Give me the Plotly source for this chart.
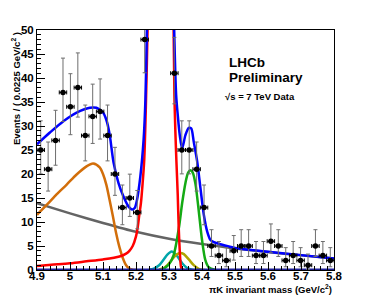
import numpy as np
import plotly.graph_objects as go

# ---------------- data ----------------
bin_lo = 4.9
bin_width = 0.0225
counts = [25, 21, 27, 37, 34, 38, 28, 32, 33, 28,
          20, 13, 15, 12, 48, 105, 190, 160, 41, 25,
          25, 21, 13, 5, 3, 2, 4, 5, 5, 3,
          3, 6, 5, 2, 3, 2, 1, 5, 3, 2]

# total fit (blue)
blue_x = [4.90, 4.94, 4.98, 5.02, 5.06, 5.08, 5.10, 5.11, 5.12, 5.132, 5.147, 5.162,
          5.1775, 5.188, 5.196, 5.203, 5.213, 5.223, 5.2285, 5.233, 5.24, 5.26, 5.275,
          5.29, 5.30, 5.31, 5.315, 5.3216, 5.3265, 5.3326, 5.3398, 5.3498, 5.3599,
          5.3672, 5.375, 5.3854, 5.3954, 5.4055, 5.4158, 5.4258, 5.4359, 5.4562,
          5.5, 5.6, 5.7, 5.8]
blue_y = [26.2, 28.7, 31.0, 32.8, 33.8, 33.8, 32.8, 31.3, 28.3, 22.4, 18.1, 15.3,
          13.2, 12.6, 12.9, 14.6, 19.4, 27.1, 35.4, 50, 85, 170, 210,
          170, 125, 72, 52, 36.5, 32.3, 28.1, 25.3, 28.1, 29.6,
          29.5, 26.7, 22.6, 17.0, 11.5, 8.0, 6.25, 5.8, 5.35,
          4.6, 3.8, 3.1, 2.4]

# B0 -> K pi signal (red)
red_x = [4.90, 5.00, 5.05, 5.10, 5.15, 5.17, 5.18, 5.19, 5.20, 5.205, 5.21, 5.215,
         5.22, 5.225, 5.2295, 5.235, 5.243, 5.26, 5.275, 5.29, 5.30, 5.31, 5.314,
         5.3164, 5.319, 5.3225, 5.3265, 5.3295, 5.3347, 5.3377, 5.345, 5.36]
red_y = [0.85, 1.4, 1.8, 2.2, 2.8, 3.4, 4.0, 5.0, 7.0, 8.8, 11.5, 14.0,
         18.0, 23.0, 33.0, 50, 85, 170, 200, 165, 110, 62, 50,
         36.5, 29.5, 22.6, 15.6, 8.7, 1.7, 0.3, 0, 0]

# partially reconstructed background (orange)
orange_x = [4.90, 4.93, 4.96, 4.99, 5.02, 5.05, 5.07, 5.09, 5.10, 5.11, 5.12, 5.13,
            5.14, 5.15, 5.16, 5.17, 5.18, 5.19, 5.20]
orange_y = [11.5, 13.6, 15.8, 17.8, 19.9, 21.6, 22.2, 21.4, 20.0, 17.8, 14.6, 11.2,
            7.6, 4.7, 2.5, 1.0, 0.3, 0.05, 0]

# combinatorial background (gray)
gray_x = [4.9, 5.0, 5.1, 5.2, 5.3, 5.4, 5.5, 5.6, 5.7, 5.8]
gray_y = [13.9, 11.8, 9.8, 7.95, 6.5, 5.4, 4.5, 3.75, 3.05, 2.4]

# Bs -> K pi (green)
green_x = [5.28, 5.30, 5.314, 5.33, 5.34, 5.35, 5.358, 5.365, 5.372, 5.38, 5.39,
           5.40, 5.41, 5.42, 5.44]
green_y = [0.1, 1.2, 3.1, 8.8, 14.0, 18.2, 20.3, 20.8, 20.3, 18.0, 12.4,
           6.3, 2.1, 0.6, 0]

# small peaking components (cyan, olive)
cyan_x = [5.24, 5.254, 5.27, 5.284, 5.295, 5.308, 5.32, 5.33, 5.34, 5.355, 5.37, 5.38]
cyan_y = [0.1, 0.3, 1.0, 2.2, 3.2, 3.85, 3.3, 2.4, 1.4, 0.4, 0.05, 0]
olive_x = [5.27, 5.284, 5.30, 5.315, 5.325, 5.335, 5.345, 5.36, 5.375, 5.39, 5.40, 5.41]
olive_y = [0.1, 0.4, 1.4, 2.7, 3.3, 3.55, 3.3, 2.2, 1.0, 0.25, 0.05, 0]

# component compatible with zero (navy)
zero_x = [4.9, 5.8]
zero_y = [0, 0]

x_tickvals = [4.9, 5.0, 5.1, 5.2, 5.3, 5.4, 5.5, 5.6, 5.7, 5.8]
x_ticktext = ["4.9", "5", "5.1", "5.2", "5.3", "5.4", "5.5", "5.6", "5.7", "5.8"]
y_tickvals = [0, 5, 10, 15, 20, 25, 30, 35, 40, 45, 50]
y_ticktext = ["0", "5", "10", "15", "20", "25", "30", "35", "40", "45", "50"]

# ---------------- derived ----------------
n = np.array(counts, dtype=float)
centers = bin_lo + bin_width * (np.arange(len(counts)) + 0.5)
err_hi = 1.0 + np.sqrt(n + 0.75)
err_lo = np.sqrt(np.clip(n - 0.25, 0, None))

FONT = "Liberation Sans, Arial, Helvetica, sans-serif"

fig = go.Figure()

def curve(xs, ys, color, width=2.5):
    fig.add_trace(go.Scatter(x=xs, y=ys, mode="lines",
                             line=dict(color=color, width=width, shape="spline", smoothing=0.8),
                             hoverinfo="skip"))

curve(gray_x, gray_y, "rgb(100,100,100)")
curve(orange_x, orange_y, "rgb(210,110,10)")
curve(cyan_x, cyan_y, "rgb(0,165,170)")
curve(olive_x, olive_y, "rgb(175,165,0)")
curve(green_x, green_y, "rgb(20,170,20)")
curve(red_x, red_y, "rgb(255,0,0)")
curve(zero_x, zero_y, "rgb(30,30,150)", width=3)
curve(blue_x, blue_y, "rgb(0,0,255)")

fig.add_trace(go.Scatter(
    x=centers, y=n, mode="markers",
    marker=dict(color="black", size=5.5, symbol="circle"),
    error_y=dict(type="data", symmetric=False, array=err_hi, arrayminus=err_lo,
                 color="rgb(110,110,110)", thickness=1, width=2),
    error_x=dict(type="constant", value=bin_width / 2, color="black", thickness=1, width=2),
    hoverinfo="skip"))

axis_common = dict(showgrid=False, zeroline=False, showline=True, linecolor="black",
                   linewidth=1, mirror=True, ticks="inside", ticklen=8, tickwidth=1,
                   tickcolor="black",
                   tickfont=dict(family=FONT, size=11.5, color="black", weight="bold"))

fig.update_layout(
    width=371, height=300,
    margin=dict(l=37, r=37, t=30, b=30),
    paper_bgcolor="white", plot_bgcolor="white",
    showlegend=False,
    xaxis=dict(range=[4.9, 5.8], tickvals=x_tickvals, ticktext=x_ticktext,
               ticklabelstandoff=-5,
               minor=dict(dtick=0.02, tick0=4.9, ticks="inside", ticklen=4,
                          tickcolor="black", showgrid=False),
               **axis_common),
    yaxis=dict(range=[0, 50], tickvals=y_tickvals, ticktext=y_ticktext,
               minor=dict(dtick=1, tick0=0, ticks="inside", ticklen=4,
                          tickcolor="black", showgrid=False),
               **axis_common),
)

fig.add_annotation(text="Events / ( 0.0225 GeV/c<sup>2</sup> )", textangle=-90,
                   xref="paper", yref="paper", x=-0.072, y=1.0,
                   xanchor="center", yanchor="top", showarrow=False,
                   font=dict(family=FONT, size=9.5, color="black", weight="bold"))
fig.add_annotation(text="πK invariant mass (GeV/c<sup>2</sup>)",
                   xref="paper", yref="paper", x=1.0, y=-0.079,
                   xanchor="right", yanchor="middle", showarrow=False,
                   font=dict(family=FONT, size=9.5, color="black", weight="bold"))
fig.add_annotation(text="LHCb", xref="paper", yref="paper", x=0.639, y=0.865,
                   xanchor="left", yanchor="middle", showarrow=False,
                   font=dict(family=FONT, size=13.5, color="black", weight="bold"))
fig.add_annotation(text="Preliminary", xref="paper", yref="paper", x=0.639, y=0.80,
                   xanchor="left", yanchor="middle", showarrow=False,
                   font=dict(family=FONT, size=13.5, color="black", weight="bold"))
fig.add_annotation(text="√s = 7 TeV Data", xref="paper", yref="paper", x=0.626, y=0.721,
                   xanchor="left", yanchor="middle", showarrow=False,
                   font=dict(family=FONT, size=9.5, color="black", weight="bold"))

fig.write_html("out.html", config={"displayModeBar": False, "staticPlot": True},
               post_script="document.body.style.margin='0';")
